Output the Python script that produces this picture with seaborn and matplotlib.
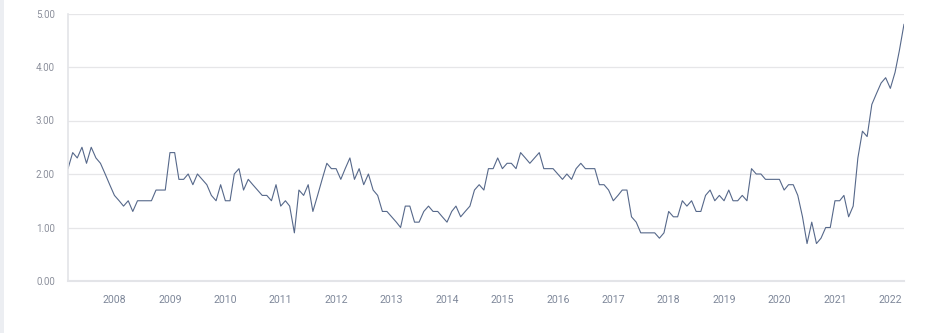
import matplotlib
matplotlib.use("Agg")
import matplotlib.pyplot as plt
import matplotlib.dates as mdates
import matplotlib.patches as mpatches
import seaborn as sns
import pandas as pd

# ---- data (monthly, starting March 2007) ----
start_month = "2007-03"
values = [
    2.1, 2.4, 2.3, 2.5, 2.2, 2.5, 2.3, 2.2, 2.0, 1.8,            # 2007 Mar-Dec
    1.6, 1.5, 1.4, 1.5, 1.3, 1.5, 1.5, 1.5, 1.5, 1.7, 1.7, 1.7,  # 2008
    2.4, 2.4, 1.9, 1.9, 2.0, 1.8, 2.0, 1.9, 1.8, 1.6, 1.5, 1.8,  # 2009
    1.5, 1.5, 2.0, 2.1, 1.7, 1.9, 1.8, 1.7, 1.6, 1.6, 1.5, 1.8,  # 2010
    1.4, 1.5, 1.4, 0.9, 1.7, 1.6, 1.8, 1.3, 1.6, 1.9, 2.2, 2.1,  # 2011
    2.1, 1.9, 2.1, 2.3, 1.9, 2.1, 1.8, 2.0, 1.7, 1.6, 1.3, 1.3,  # 2012
    1.2, 1.1, 1.0, 1.4, 1.4, 1.1, 1.1, 1.3, 1.4, 1.3, 1.3, 1.2,  # 2013
    1.1, 1.3, 1.4, 1.2, 1.3, 1.4, 1.7, 1.8, 1.7, 2.1, 2.1, 2.3,  # 2014
    2.1, 2.2, 2.2, 2.1, 2.4, 2.3, 2.2, 2.3, 2.4, 2.1, 2.1, 2.1,  # 2015
    2.0, 1.9, 2.0, 1.9, 2.1, 2.2, 2.1, 2.1, 2.1, 1.8, 1.8, 1.7,  # 2016
    1.5, 1.6, 1.7, 1.7, 1.2, 1.1, 0.9, 0.9, 0.9, 0.9, 0.8, 0.9,  # 2017
    1.3, 1.2, 1.2, 1.5, 1.4, 1.5, 1.3, 1.3, 1.6, 1.7, 1.5, 1.6,  # 2018
    1.5, 1.7, 1.5, 1.5, 1.6, 1.5, 2.1, 2.0, 2.0, 1.9, 1.9, 1.9,  # 2019
    1.9, 1.7, 1.8, 1.8, 1.6, 1.2, 0.7, 1.1, 0.7, 0.8, 1.0, 1.0,  # 2020
    1.5, 1.5, 1.6, 1.2, 1.4, 2.3, 2.8, 2.7, 3.3, 3.5, 3.7, 3.8,  # 2021
    3.6, 3.9, 4.3, 4.8,                                          # 2022 Jan-Apr
]
dates = pd.date_range(start=start_month, periods=len(values), freq="MS")
years = list(range(2008, 2023))
y_ticks = [0, 1, 2, 3, 4, 5]

df = pd.DataFrame({"date": dates, "value": values})

# ---- style ----
sns.set_style("white")
plt.rcParams["font.family"] = ["Roboto", "DejaVu Sans"]

fig = plt.figure(figsize=(9.25, 3.33), dpi=100)
fig.patch.set_facecolor("white")
fig.patches.append(mpatches.Rectangle((0, 0), 4 / 925, 1, transform=fig.transFigure,
                                      facecolor="#eceef2", edgecolor="none", zorder=0))
ax = fig.add_axes([68 / 925, 1 - 281 / 333, (904 - 68) / 925, (281 - 13.5) / 333])

sns.lineplot(data=df, x="date", y="value", ax=ax, color="#56688a", linewidth=0.8)

ax.set_xlim(dates[0], dates[-1])
ax.set_ylim(0, 5)
ax.set_yticks(y_ticks)
ax.set_yticklabels([f"{v:.2f}" for v in y_ticks])
ax.set_xticks([pd.Timestamp(f"{y}-01-01") for y in years])
ax.set_xticklabels([str(y) for y in years])
ax.set_xlabel("")
ax.set_ylabel("")

ax.grid(axis="y", color="#e6e6e8", linewidth=0.9)
ax.grid(axis="x", visible=False)
ax.set_axisbelow(True)

for side in ["top", "right"]:
    ax.spines[side].set_visible(False)
ax.spines["left"].set_color("#e3e4e8")
ax.spines["left"].set_linewidth(1.2)
ax.spines["bottom"].set_color("#e3e4e8")
ax.spines["bottom"].set_linewidth(1.5)

ax.tick_params(axis="y", length=0, pad=9.5, labelsize=7, labelcolor="#8c909c")
ax.tick_params(axis="x", length=3.8, width=1, color="#dcdde2", pad=6,
               labelsize=7.6, labelcolor="#7f889a")

fig.savefig("out.png", dpi=100)
